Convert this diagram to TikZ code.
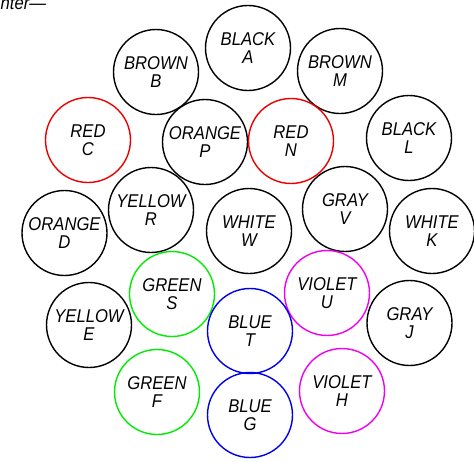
\documentclass[tikz,border=0pt]{standalone}
\usepackage{fontspec}
\setmainfont{Liberation Sans}[FakeStretch=0.9]
\definecolor{cred}{RGB}{235,0,0}
\definecolor{cgreen}{RGB}{0,235,0}
\definecolor{cblue}{RGB}{0,0,235}
\definecolor{cviolet}{RGB}{240,0,240}
\begin{document}
\begin{tikzpicture}[x=1pt,y=-1pt,
  wire/.style={circle,draw,line width=1.4pt,minimum size=85pt,inner sep=0pt,
    align=center,font=\fontsize{18.5}{18}\selectfont\itshape},
  lbl/.style={inner sep=0pt,anchor=base west,font=\fontsize{18.5}{18}\selectfont\itshape}]
\useasboundingbox (0,0) rectangle (474,461);
\node[lbl] (title) at (0.5,9.5) {nter—};
\node[wire] (A) at (248,48) {BLACK\\A};
\node[wire] (B) at (156,72) {BROWN\\B};
\node[wire] (M) at (340,71) {BROWN\\M};
\node[wire,cred] (C) at (88,140) {\color{black}RED\\\color{black}C};
\node[wire] (P) at (205,142) {ORANGE\\P};
\node[wire,cred] (N) at (291,141) {\color{black}RED\\\color{black}N};
\node[wire] (L) at (409,138) {BLACK\\L};
\node[wire] (D) at (64.5,233) {ORANGE\\D};
\node[wire] (R) at (151,210) {YELLOW\\R};
\node[wire] (W) at (249,231) {WHITE\\W};
\node[wire] (V) at (345,209) {GRAY\\V};
\node[wire] (K) at (432,231) {WHITE\\K};
\node[wire,cgreen] (S) at (172,294) {\color{black}GREEN\\\color{black}S};
\node[wire,cviolet] (U) at (327,293) {\color{black}VIOLET\\\color{black}U};
\node[wire] (E) at (89,325) {YELLOW\\E};
\node[wire] (J) at (409.5,323) {GRAY\\J};
\node[wire,cblue] (T) at (250,331) {\color{black}BLUE\\\color{black}T};
\node[wire,cgreen] (F) at (157,392) {\color{black}GREEN\\\color{black}F};
\node[wire,cblue] (G) at (250,415) {\color{black}BLUE\\\color{black}G};
\node[wire,cviolet] (H) at (342,391) {\color{black}VIOLET\\\color{black}H};
\end{tikzpicture}
\end{document}
